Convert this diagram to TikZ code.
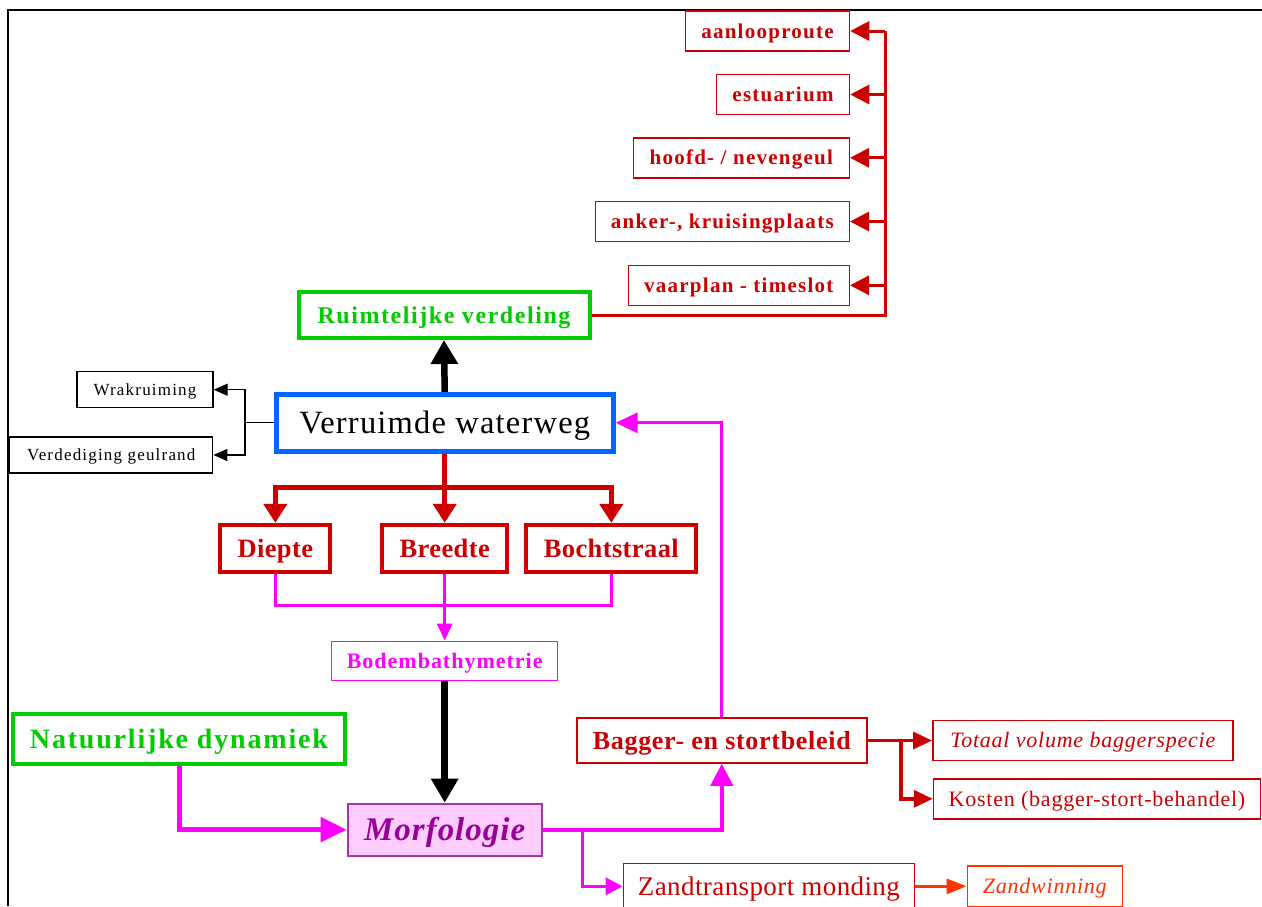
\documentclass[tikz,border=0pt]{standalone}
\usepackage{fontspec}
\setmainfont{Liberation Serif}
\usetikzlibrary{arrows.meta}
\definecolor{dred}{HTML}{CC0000}
\definecolor{lgreen}{HTML}{00CC00}
\definecolor{wblue}{HTML}{0066FF}
\definecolor{mag}{HTML}{FF00FF}
\definecolor{mpurple}{HTML}{990099}
\definecolor{mborder}{HTML}{AA33AA}
\definecolor{mfill}{HTML}{FFCCFF}
\definecolor{ored}{HTML}{FF3300}
\tikzset{
  % size, shape/series switch, letter spacing (percent of size)
  ft/.style n args={3}{font={\fontsize{#1}{#1}\selectfont#2\addfontfeatures{LetterSpace=#3}},
    text height={0.891*#1}, text depth={0.216*#1}},
  box/.style n args={2}{draw, rectangle, inner sep=0pt, minimum width=#1, minimum height=#2},
  listbox/.style={draw=dred, line width=1.5pt, text=dred, ft={21}{\bfseries}{6}, inner sep=0pt, minimum height=40},
  blackbox/.style={draw=black, line width=1.2pt, ft={17}{}{7}, inner sep=0pt, minimum height=36},
  dimbox/.style={draw=dred, line width=4pt, text=dred, ft={26.5}{\bfseries}{1.5}, inner sep=0pt, minimum height=47},
  thinred/.style={draw=dred, line width=1.5pt, text=dred, inner sep=0pt},
  bigarrow/.style={line width=6.5pt, -{Triangle[length=24pt,width=26pt]}},
}
\begin{document}
\begin{tikzpicture}[x=1pt,y=-1pt]
\useasboundingbox (0,0) rectangle (1262,906);
\fill[white] (0,0) rectangle (1262,906);
% page frame
\draw[line width=2pt] (7.5,906) -- (7.5,9.5) -- (1262,9.5);

% spatial layout list
\node[listbox, minimum width=164] (aan) at (767.5,31) {aanlooproute};
\node[listbox, minimum width=133] (est) at (783,94.5) {estuarium};
\node[listbox, minimum width=216] (hfd) at (741.3,157.8) {hoofd- / nevengeul};
\node[listbox, minimum width=254] (ank) at (722.3,221.5) {anker-, kruisingplaats};
\node[listbox, minimum width=221] (vpl) at (738.8,285.3) {vaarplan - timeslot};

\node[box={291}{46}, draw=lgreen, line width=4pt, text=lgreen, ft={24}{\bfseries}{6.5}] (rv) at (444,315) {Ruimtelijke verdeling};

\coordinate (bustop) at (885,31);
\draw[dred, line width=3pt] (rv.east) -| (bustop);
\foreach \n in {aan,est,hfd,ank,vpl}
  \draw[dred, line width=3pt, -{Triangle[length=19pt,width=19pt]}] (\n.east -| bustop) -- (\n.east);

% central node
\node[box={337}{57}, draw=wblue, line width=5pt, ft={32.5}{}{3.7}] (vw) at (444.7,422.8) {Verruimde waterweg};
\draw[bigarrow] (vw.north) -- (rv.south);

% side tasks
\node[blackbox, minimum width=136] (wr) at (145,389.7) {Wrakruiming};
\node[blackbox, minimum width=203] (vd) at (111.3,455) {Verdediging geulrand};
\coordinate (wbus) at (245,422.8);
\draw[line width=1.2pt] (vw.west) -- (wbus);
\draw[line width=1.2pt, -{Triangle[length=14pt,width=12pt]}] (wbus) |- (wr.east);
\draw[line width=1.2pt, -{Triangle[length=14pt,width=12pt]}] (wbus) |- (vd.east);

% channel dimensions
\node[dimbox, minimum width=110] (di) at (275.3,548.3) {Diepte};
\node[dimbox, minimum width=125] (br) at (444.7,548.3) {Breedte};
\node[dimbox, minimum width=170] (bo) at (611.3,548.3) {Bochtstraal};
\coordinate (rsplit) at (444.7,487.3);
\draw[dred, line width=4.5pt, -{Triangle[length=19pt,width=23pt]}] (vw.south) -- (br.north);
\draw[dred, line width=4.5pt, -{Triangle[length=19pt,width=23pt]}] (rsplit) -| (di.north);
\draw[dred, line width=4.5pt, -{Triangle[length=19pt,width=23pt]}] (rsplit) -| (bo.north);

% bathymetry
\node[box={226}{39}, draw=mag, line width=1.5pt, text=mag, ft={22}{\bfseries}{4.5}] (bb) at (444.7,660.8) {Bodembathymetrie};
\coordinate (mrow) at (444.7,605.7);
\draw[mag, line width=3pt] (di.south) |- (bo.south |- mrow) -- (bo.south);
\draw[mag, line width=3pt, -{Triangle[length=17pt,width=15pt]}] (br.south) -- (bb.north);

% morphology
\node[box={194}{52}, draw=mborder, fill=mfill, line width=2pt, text=mpurple, ft={33}{\bfseries\itshape}{3}] (mo) at (444.7,829.7) {Morfologie};
\draw[bigarrow] (bb.south) -- (mo.north);

\node[box={332}{50}, draw=lgreen, line width=4pt, text=lgreen, ft={28}{\bfseries}{6.5}] (nd) at (179,738.7) {Natuurlijke dynamiek};
\draw[mag, line width=5pt, -{Triangle[length=26pt,width=24pt]}] (nd.south) |- (mo.west);

% dredging policy
\node[thinred, box={290}{45}, ft={26}{\bfseries}{2.7}] (bg) at (721.8,740.5) {Bagger- en stortbeleid};
\draw[mag, line width=4pt, -{Triangle[length=22pt,width=22pt]}] (mo.east) -| (bg.south);
\draw[mag, line width=3pt, -{Triangle[length=22pt,width=20pt]}] (bg.north) |- (vw.east);

\node[thinred, box={300}{40}, ft={22}{\itshape}{3.5}] (tv) at (1082.8,740.5) {Totaal volume baggerspecie};
\node[thinred, box={327}{40}, ft={22}{}{3.5}] (ko) at (1097,798.8) {Kosten (bagger-stort-behandel)};
\coordinate (ksplit) at (901.2,740.5);
\draw[dred, line width=3.5pt, -{Triangle[length=19pt,width=17pt]}] (bg.east) -- (tv.west);
\draw[dred, line width=3.5pt, -{Triangle[length=19pt,width=17pt]}] (ksplit) |- (ko.west);

% sand transport
\node[thinred, box={291}{46}, ft={27}{}{1.5}] (zt) at (768.9,886.3) {Zandtransport monding};
\node[box={155}{41}, draw=ored, line width=1.5pt, text=ored, ft={22}{\itshape}{3.5}] (zw) at (1044.8,886.3) {Zandwinning};
\coordinate (zsplit) at (582.4,829.7);
\draw[mag, line width=3pt, -{Triangle[length=17pt,width=17pt]}] (zsplit) |- (zt.west);
\draw[ored, line width=3pt, -{Triangle[length=20pt,width=15pt]}] (zt.east) -- (zw.west);
\end{tikzpicture}
\end{document}
